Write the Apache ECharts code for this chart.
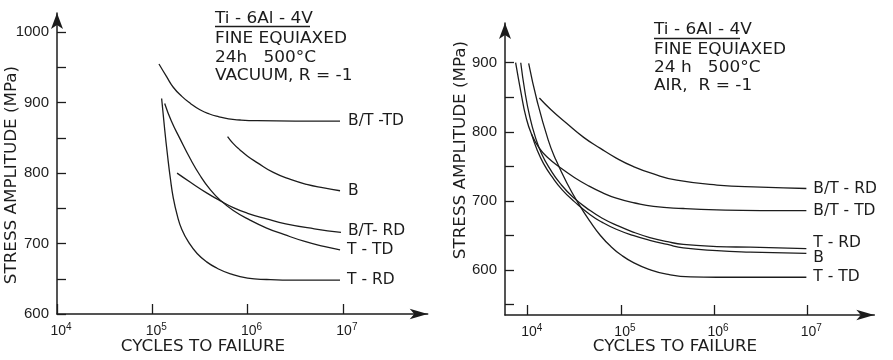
<!DOCTYPE html>
<html>
<head>
<meta charset="utf-8">
<script src="https://cdn.jsdelivr.net/npm/echarts@6/dist/echarts.min.js"></script>
<style>
  html, body { margin: 0; padding: 0; background: #fff; }
  #chart { width: 893px; height: 360px; }
</style>
</head>
<body>
<div id="chart"></div>
<script>
// x = log10(cycles to failure), y = stress amplitude (MPa)

// ---- Vacuum, R = -1 ----
const vacNames = ['B/T -TD', 'B', 'B/T- RD', 'T - TD', 'T - RD'];
const vacBTTD = [[5.07,955],[5.15,937],[5.22,922],[5.31,909],[5.40,899],[5.5,890],[5.6,884],[5.7,880],[5.8,877],[5.92,875.5],[6.1,874.5],[6.5,874],[6.97,874]];
const vacB    = [[5.79,852],[5.85,842],[5.92,833],[6.0,824],[6.1,815],[6.27,801],[6.45,791],[6.62,784],[6.8,779],[6.97,775]];
const vacBTRD = [[5.26,800],[5.4,787],[5.57,772],[5.71,761],[5.85,751],[6.0,743],[6.2,735],[6.4,728],[6.7,721],[6.98,716]];
const vacTTD  = [[5.13,899],[5.2,874],[5.29,849],[5.4,820],[5.5,797],[5.6,778],[5.71,762],[5.85,747],[6.03,733],[6.2,722],[6.38,713],[6.6,703],[6.8,696],[6.97,691]];
const vacTRD  = [[5.098,906],[5.13,862],[5.16,825],[5.19,792],[5.22,765],[5.26,741],[5.31,720],[5.39,700],[5.47,686],[5.57,674],[5.68,665],[5.82,657],[6.0,651],[6.2,649],[6.5,648],[6.97,648]];

// ---- Air, R = -1 ----
const airNames = ['B/T - RD', 'B/T - TD', 'T - RD', 'B', 'T - TD'];
const airBTRD = [[4.125,849],[4.25,832],[4.42,812],[4.6,792],[4.78,776],[4.95,762],[5.13,750],[5.35,739],[5.6,730],[6.03,723],[6.5,720],[6.99,718]];
const airBTTD = [[3.87,900],[3.93,855],[3.98,822],[4.04,797],[4.12,777],[4.22,762],[4.35,748],[4.5,734],[4.65,722],[4.8,712],[4.95,704],[5.15,697],[5.35,692],[5.67,689],[6.03,687],[6.5,686],[6.99,686]];
const airTRD  = [[3.925,900],[3.97,858],[4.02,823],[4.08,793],[4.15,768],[4.24,746],[4.35,725],[4.49,705],[4.67,686],[4.8,675],[4.95,665],[5.13,655],[5.31,647],[5.5,641],[5.67,637],[6.03,634],[6.39,633],[6.99,631]];
const airB    = [[4.04,797],[4.1,774],[4.17,754],[4.26,735],[4.37,716],[4.5,699],[4.67,680],[4.8,669],[4.95,659],[5.13,650],[5.31,643],[5.5,637],[5.67,632],[6.03,628],[6.39,626],[6.99,624]];
const airTTD  = [[4.01,899],[4.1,845],[4.22,788],[4.3,760],[4.42,726],[4.55,695],[4.67,670],[4.78,650],[4.9,633],[5.0,622],[5.13,611],[5.3,601],[5.49,594],[5.75,590],[6.03,589.5],[6.99,589.5]];

// ---- Axis ticks and labels ----
const xTicksVac = [4, 5, 6, 7];
const xTicksAir = [4, 5, 6, 7];
const yTicksVac = [600, 650, 700, 750, 800, 850, 900, 950, 1000];
const yLabelsVac = [600, 700, 800, 900, 1000];
const yTicksAir = [550, 600, 650, 700, 750, 800, 850, 900];
const yLabelsAir = [600, 700, 800, 900];

const annotVac = ['Ti - 6Al - 4V', 'FINE EQUIAXED', '24h   500°C', 'VACUUM, R = -1'];
const annotAir = ['Ti - 6Al - 4V', 'FINE EQUIAXED', '24 h   500°C', 'AIR,  R = -1'];

const INK = '#1c1c1c';
const FONT = '"DejaVu Sans", sans-serif';
const NUMFONT = '"Liberation Sans", sans-serif';

function xAxis(gridIndex, min, max, ticks) {
  return {
    type: 'value', gridIndex, min, max,
    axisLine: { show: true, onZero: false, symbol: ['none', 'arrow'], symbolSize: [8, 18],
                lineStyle: { color: INK, width: 1.5 } },
    axisTick: { show: true, inside: true, length: 10, customValues: ticks,
                lineStyle: { color: INK, width: 1.3 } },
    axisLabel: {
      customValues: ticks, margin: 8, color: INK,
      formatter: v => '{b|10}{s|' + Math.round(v) + '}',
      rich: {
        b: { fontFamily: NUMFONT, fontSize: 14, color: INK, padding: [0, 0, 0, 8] },
        s: { fontFamily: NUMFONT, fontSize: 10, color: INK, padding: [0, 0, 9, 0] }
      }
    },
    splitLine: { show: false }
  };
}

function yAxis(gridIndex, min, max, ticks, labels) {
  return {
    type: 'value', gridIndex, min, max,
    axisLine: { show: true, onZero: false, symbol: ['none', 'arrow'], symbolSize: [9, 16],
                lineStyle: { color: INK, width: 1.5 } },
    axisTick: { show: true, inside: true, length: 9, customValues: ticks,
                lineStyle: { color: INK, width: 1.3 } },
    axisLabel: { customValues: labels, margin: 8, color: INK,
                 fontFamily: NUMFONT, fontSize: 15, formatter: v => String(v) },
    splitLine: { show: false }
  };
}

function curve(name, data, axisIndex, dist, dy) {
  return {
    type: 'line', name, data,
    xAxisIndex: axisIndex, yAxisIndex: axisIndex,
    smooth: 0.5,
    showSymbol: false, symbol: 'none',
    lineStyle: { color: INK, width: 1.3 },
    endLabel: { show: true, formatter: '{a}', distance: dist, offset: [0, dy],
                color: INK, fontFamily: FONT, fontSize: 15.5 },
    emphasis: { disabled: true },
    silent: true
  };
}

// Wide technical lettering: regular font stretched horizontally
function label(text, x, y, size) {
  return {
    type: 'text', x, y, scaleX: 1.13,
    style: { text, fill: INK, font: size + 'px ' + FONT, verticalAlign: 'middle', align: 'left' }
  };
}

function annotation(lines, x, ys, ulY, ulEnd) {
  const els = lines.map((t, i) => label(t, x, ys[i], 15));
  els.push({ type: 'line', shape: { x1: x, y1: ulY, x2: ulEnd, y2: ulY },
             style: { stroke: INK, lineWidth: 1.3 } });
  return els;
}

function centred(text, x, y, rotated) {
  return {
    type: 'text', x, y,
    rotation: rotated ? Math.PI / 2 : 0,
    scaleX: 1.08,
    style: { text, fill: INK, font: '15.5px ' + FONT, align: 'center', verticalAlign: 'middle' }
  };
}

const chart = echarts.init(document.getElementById('chart'), null, { renderer: 'canvas' });

chart.setOption({
  backgroundColor: '#ffffff',
  animation: false,
  grid: [
    { left: 57, top: 13, width: 370.7, height: 301 },
    { left: 505, top: 23, width: 369.3, height: 292 }
  ],
  xAxis: [
    xAxis(0, 4, 7.89, xTicksVac),
    xAxis(1, 3.756, 7.719, xTicksAir)
  ],
  yAxis: [
    yAxis(0, 600, 1027.4, yTicksVac, yLabelsVac),
    yAxis(1, 534.9, 957.5, yTicksAir, yLabelsAir)
  ],
  series: [
    curve(vacNames[0], vacBTTD, 0, 8, 0),
    curve(vacNames[1], vacB, 0, 8, 0),
    curve(vacNames[2], vacBTRD, 0, 7, -1.5),
    curve(vacNames[3], vacTTD, 0, 7, 0),
    curve(vacNames[4], vacTRD, 0, 7, 0),
    curve(airNames[0], airBTRD, 1, 7, 0),
    curve(airNames[1], airBTTD, 1, 7, 0),
    curve(airNames[2], airTRD, 1, 7, -5.5),
    curve(airNames[3], airB, 1, 7, 4.5),
    curve(airNames[4], airTTD, 1, 7, 0)
  ],
  graphic: [
    ...annotation(annotVac, 215, [19, 39.5, 58.5, 76], 26.5, 310),
    ...annotation(annotAir, 654, [30.5, 50, 68.3, 86], 38.5, 740),
    centred('STRESS AMPLITUDE (MPa)', 12, 175, true),
    centred('STRESS AMPLITUDE (MPa)', 461, 150, true),
    centred('CYCLES TO FAILURE', 203, 347, false),
    centred('CYCLES TO FAILURE', 675, 347, false)
  ]
});
</script>
</body>
</html>
